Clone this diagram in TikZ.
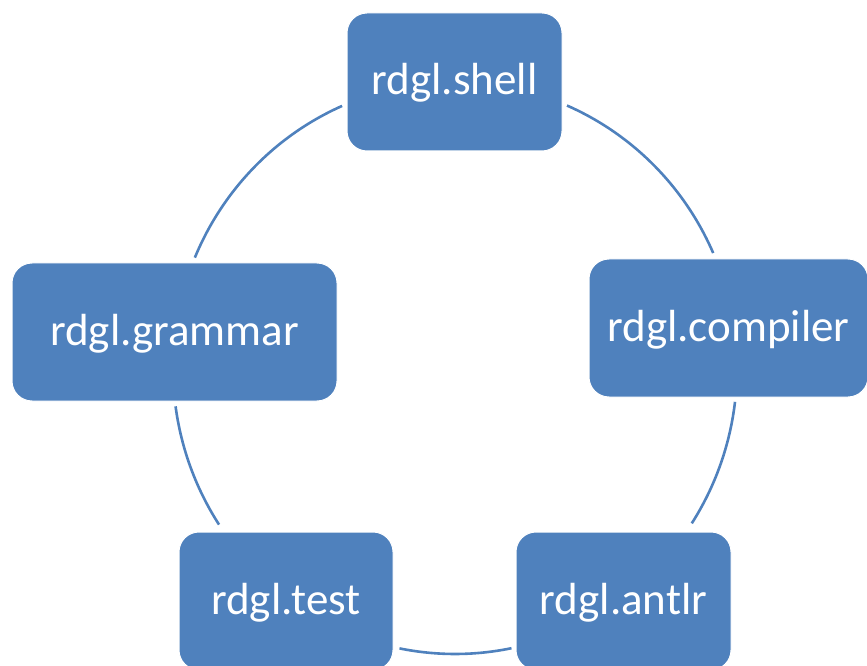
\documentclass[tikz,border=0pt]{standalone}
\usepackage{fontspec}
\setmainfont{Carlito}
\definecolor{cycleblue}{HTML}{4F81BD}
\begin{document}
\begin{tikzpicture}[x=1pt,y=1pt,
  module/.style={rectangle, rounded corners=20, fill=cycleblue, draw=white,
    line width=1pt, minimum height=138, inner sep=0pt, text=white,
    text height=33, text depth=7,
    font=\fontsize{45}{50}\selectfont},
  ringarc/.style={draw=cycleblue, line width=2.6pt}]
  \useasboundingbox (0,0) rectangle (867,665);
  \clip (0,0) rectangle (867,665);

  % modules of the cycle
  \node[module, minimum width=215] (shell)    at (454.5,583) {rdgl.shell};
  \node[module, minimum width=279] (compiler) at (728.5,337) {rdgl.compiler};
  \node[module, minimum width=215] (antlr)    at (623.5,64)  {rdgl.antlr};
  \node[module, minimum width=214] (test)     at (286,64)    {rdgl.test};
  \node[module, minimum width=325] (grammar)  at (174.5,333) {rdgl.grammar};

  % ring that links the modules
  \coordinate (ring) at (455,297);
  \draw[ringarc] (ring) ++(66.6:282 and 286)
    arc[start angle=66.6, end angle=23.7, x radius=282, y radius=286];
  \draw[ringarc] (ring) ++(-6.8:282 and 286)
    arc[start angle=-6.8, end angle=-32.9, x radius=282, y radius=286];
  \draw[ringarc] (ring) ++(-78.45:282 and 286)
    arc[start angle=-78.45, end angle=-101.35, x radius=282, y radius=286];
  \draw[ringarc] (ring) ++(213.2:282 and 286)
    arc[start angle=213.2, end angle=187.7, x radius=282, y radius=286];
  \draw[ringarc] (ring) ++(157.3:282 and 286)
    arc[start angle=157.3, end angle=113.6, x radius=282, y radius=286];
\end{tikzpicture}
\end{document}
